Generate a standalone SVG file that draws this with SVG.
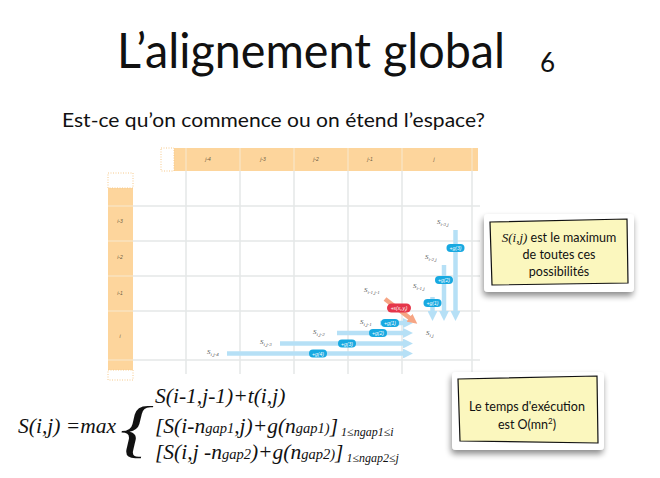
<svg xmlns="http://www.w3.org/2000/svg" width="660" height="478" viewBox="0 0 660 478">
  <defs>
    <style>
      .title { font-family: Lato, "Open Sans", sans-serif; fill: #111; }
      .hdr { font-family: "Liberation Sans", sans-serif; font-size: 5px; font-style: italic; fill: #6a5a40; text-anchor: middle; }
      .grid { stroke: #e4e7e7; stroke-width: 1.5; fill: none; }
      .hsep { stroke: #f9e2bf; stroke-width: 1.5; }
      .band { fill: #fdd59c; }
      .dots { fill: none; stroke: #f6c98c; stroke-width: 1; stroke-dasharray: 1 1.5; }
      .arr { stroke: #b6e0f6; stroke-width: 4.5; fill: none; }
      .diag { stroke: #f6a584; stroke-width: 4.5; fill: none; }
      .pill { fill: #18a9e1; }
      .pill-red { fill: #e5364a; }
      .pt { font-family: "Liberation Sans", sans-serif; font-size: 5px; font-style: italic; fill: #fff; text-anchor: middle; }
      .s { font-family: "Liberation Serif", serif; font-size: 7px; font-style: italic; fill: #555; }
      .sub { font-size: 5px; }
      .note { fill: #fbf7be; stroke: #111; stroke-width: 1.2; }
      .frame { fill: #fff; }
      .nt { font-family: "Lato", "Open Sans", sans-serif; font-size: 12.5px; fill: #111; text-anchor: middle; }
      .math { font-family: "Liberation Serif", serif; font-style: italic; fill: #111; }
    </style>
    <marker id="ah" viewBox="0 0 10 10" refX="2" refY="5" markerWidth="2.2" markerHeight="2.2" orient="auto" markerUnits="strokeWidth">
      <path d="M0,0 L10,5 L0,10 z" fill="#b6e0f6"/>
    </marker>
    <marker id="ahr" viewBox="0 0 10 10" refX="2" refY="5" markerWidth="2.2" markerHeight="2.2" orient="auto" markerUnits="strokeWidth">
      <path d="M0,0 L10,5 L0,10 z" fill="#f6a584"/>
    </marker>
    <filter id="shadow" x="-20%" y="-20%" width="140%" height="150%">
      <feGaussianBlur in="SourceAlpha" stdDeviation="3"/>
      <feOffset dx="-1" dy="4"/>
      <feComponentTransfer><feFuncA type="linear" slope="0.45"/></feComponentTransfer>
      <feMerge><feMergeNode/><feMergeNode in="SourceGraphic"/></feMerge>
    </filter>
  </defs>

  <rect width="660" height="478" fill="#fff"/>

  <!-- title -->
  <g id="title">
    <text class="title" x="117" y="68" font-size="48" textLength="388" lengthAdjust="spacingAndGlyphs">L’alignement global</text>
    <text class="title" x="540" y="72" font-size="26">6</text>
  </g>
  <g id="subtitle">
    <text class="title" x="62" y="127" font-size="20" textLength="423" lengthAdjust="spacingAndGlyphs">Est-ce qu’on commence ou on étend l’espace?</text>
  </g>

  <!-- dynamic programming matrix -->
  <g id="matrix">
    <rect class="band" x="174" y="148" width="304" height="23"/>
    <rect class="dots" x="161" y="148" width="13" height="23"/>
    <rect class="band" x="108" y="188" width="25" height="182"/>
    <rect class="dots" x="108" y="173" width="25" height="15"/>
    <rect class="dots" x="108" y="370" width="25" height="10"/>
    <g>
      <line class="hsep" x1="186" y1="148" x2="186" y2="171"/>
      <line class="hsep" x1="240" y1="148" x2="240" y2="171"/>
      <line class="hsep" x1="294" y1="148" x2="294" y2="171"/>
      <line class="hsep" x1="348" y1="148" x2="348" y2="171"/>
      <line class="hsep" x1="402" y1="148" x2="402" y2="171"/>
      <line class="hsep" x1="472" y1="148" x2="472" y2="171"/>
      <line class="hsep" x1="108" y1="206" x2="133" y2="206"/>
      <line class="hsep" x1="108" y1="241" x2="133" y2="241"/>
      <line class="hsep" x1="108" y1="276" x2="133" y2="276"/>
      <line class="hsep" x1="108" y1="311" x2="133" y2="311"/>
      <line class="hsep" x1="108" y1="360" x2="133" y2="360"/>
    </g>
    <g class="grid">
      <line x1="186" y1="171" x2="186" y2="374"/>
      <line x1="240" y1="171" x2="240" y2="374"/>
      <line x1="294" y1="171" x2="294" y2="374"/>
      <line x1="348" y1="171" x2="348" y2="374"/>
      <line x1="402" y1="171" x2="402" y2="374"/>
      <line x1="472" y1="171" x2="472" y2="374"/>
      <line x1="133" y1="206" x2="480" y2="206"/>
      <line x1="133" y1="241" x2="480" y2="241"/>
      <line x1="133" y1="276" x2="480" y2="276"/>
      <line x1="133" y1="311" x2="480" y2="311"/>
      <line x1="133" y1="360" x2="480" y2="360"/>
    </g>
    <text class="hdr" x="208" y="161">j-4</text>
    <text class="hdr" x="263" y="161">j-3</text>
    <text class="hdr" x="316" y="161">j-2</text>
    <text class="hdr" x="370" y="161">j-1</text>
    <text class="hdr" x="434" y="161">j</text>
    <text class="hdr" x="120" y="223">i-3</text>
    <text class="hdr" x="120" y="259">i-2</text>
    <text class="hdr" x="120" y="295">i-1</text>
    <text class="hdr" x="120" y="338">i</text>
  </g>

  <!-- gap and match transitions -->
  <g id="connectors">
    <line class="arr" x1="380" y1="323" x2="405" y2="323" marker-end="url(#ah)"/>
    <line class="arr" x1="337" y1="333" x2="405" y2="333" marker-end="url(#ah)"/>
    <line class="arr" x1="280" y1="343.5" x2="405" y2="343.5" marker-end="url(#ah)"/>
    <line class="arr" x1="227" y1="353.5" x2="405" y2="353.5" marker-end="url(#ah)"/>
    <line class="arr" x1="432.5" y1="297" x2="432.5" y2="313" marker-end="url(#ah)"/>
    <line class="arr" x1="444" y1="265" x2="444" y2="313" marker-end="url(#ah)"/>
    <line class="arr" x1="455.5" y1="230" x2="455.5" y2="313" marker-end="url(#ah)"/>
    <line class="diag" x1="385" y1="299" x2="411" y2="319" marker-end="url(#ahr)"/>
  </g>

  <!-- gap penalties and substitution score -->
  <g id="costs">
    <rect class="pill" x="381" y="319" width="18" height="8" rx="4"/>
    <text class="pt" x="390" y="325">+g(1)</text>
    <rect class="pill" x="369" y="329" width="18" height="8" rx="4"/>
    <text class="pt" x="378" y="335">+g(2)</text>
    <rect class="pill" x="338" y="339.5" width="18" height="8" rx="4"/>
    <text class="pt" x="347" y="345.5">+g(3)</text>
    <rect class="pill" x="309" y="349.5" width="18" height="8" rx="4"/>
    <text class="pt" x="318" y="355.5">+g(4)</text>
    <rect class="pill" x="423.5" y="299" width="18" height="8" rx="4"/>
    <text class="pt" x="432.5" y="305">+g(1)</text>
    <rect class="pill" x="435" y="276" width="18" height="8" rx="4"/>
    <text class="pt" x="444" y="282">+g(2)</text>
    <rect class="pill" x="446.5" y="244" width="18" height="8" rx="4"/>
    <text class="pt" x="455.5" y="250">+g(3)</text>
    <rect class="pill-red" x="387" y="303.5" width="24" height="9" rx="4.5"/>
    <text class="pt" x="399" y="310">+s(x<tspan font-size="3.5" dy="1">i</tspan><tspan dy="-1">,y</tspan><tspan font-size="3.5" dy="1">j</tspan><tspan dy="-1">)</tspan></text>
  </g>

  <!-- score cell labels -->
  <g id="cells">
    <text class="s" x="437" y="224">S<tspan class="sub" dy="1.5">i-3,j</tspan></text>
    <text class="s" x="425" y="259">S<tspan class="sub" dy="1.5">i-2,j</tspan></text>
    <text class="s" x="413" y="288">S<tspan class="sub" dy="1.5">i-1,j</tspan></text>
    <text class="s" x="364" y="292">S<tspan class="sub" dy="1.5">i-1,j-1</tspan></text>
    <text class="s" x="360" y="324">S<tspan class="sub" dy="1.5">i,j-1</tspan></text>
    <text class="s" x="313" y="334">S<tspan class="sub" dy="1.5">i,j-2</tspan></text>
    <text class="s" x="260" y="344">S<tspan class="sub" dy="1.5">i,j-3</tspan></text>
    <text class="s" x="207" y="354">S<tspan class="sub" dy="1.5">i,j-4</tspan></text>
    <text class="s" x="426" y="335">S<tspan class="sub" dy="1.5">i,j</tspan></text>
  </g>

  <!-- note: maximum -->
  <g id="note-max">
    <rect class="frame" x="484" y="214" width="150" height="78" rx="4" filter="url(#shadow)"/>
    <polygon class="note" points="490,222 627,219 628,283 492,285"/>
    <text class="nt" x="559" y="242"><tspan font-family="Liberation Serif, serif" font-style="italic" font-size="13">S(i,j)</tspan> est le maximum</text>
    <text class="nt" x="559" y="259">de toutes ces</text>
    <text class="nt" x="559" y="276">possibilités</text>
  </g>

  <!-- note: complexity -->
  <g id="note-time">
    <rect class="frame" x="452" y="372" width="152" height="78" rx="4" filter="url(#shadow)"/>
    <polygon class="note" points="458,379 597,376 598,443 460,441"/>
    <text class="nt" x="527" y="411">Le temps d'exécution</text>
    <text class="nt" x="527" y="429">est O(mn<tspan font-size="8" dy="-5">2</tspan><tspan dy="5">)</tspan></text>
  </g>

  <!-- recurrence -->
  <g id="formula">
    <text class="math" x="18" y="433" font-size="21.5">S(i,j) =max</text>
    <text class="math" font-size="63" font-style="normal" transform="translate(120,450) scale(1.35,1)">{</text>
    <text class="math" x="155" y="403" font-size="21.5">S(i-1,j-1)+t(i,j)</text>
    <text class="math" x="155" y="433" font-size="21.5">[S(i-n<tspan font-size="14.5">gap1</tspan>,j)+g(n<tspan font-size="14.5">gap1)</tspan>]<tspan font-size="12" dy="3"> 1≤ngap1≤i</tspan></text>
    <text class="math" x="155" y="459" font-size="21.5">[S(i,j -n<tspan font-size="14.5">gap2</tspan>)+g(n<tspan font-size="14.5">gap2)</tspan>]<tspan font-size="12" dy="3"> 1≤ngap2≤j</tspan></text>
  </g>
</svg>
